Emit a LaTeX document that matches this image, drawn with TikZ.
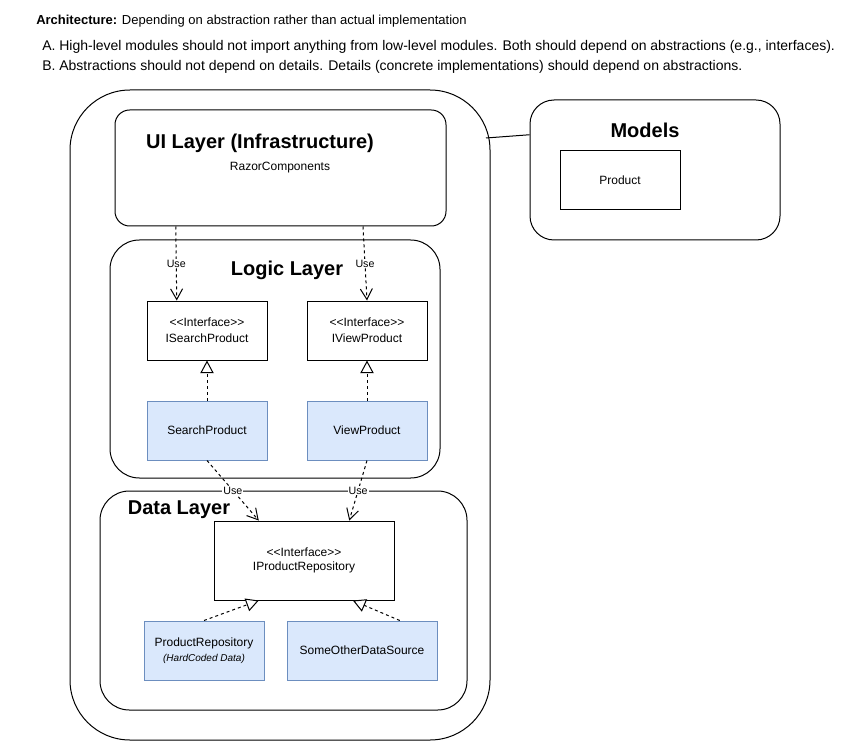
\documentclass[tikz,border=0pt]{standalone}
\usepackage{fontspec}
\setmainfont{Liberation Sans}
\usetikzlibrary{arrows.meta,calc,positioning}
\definecolor{ArchInk}{HTML}{000000}
\definecolor{ArchFill}{HTML}{DAE8FC}
\definecolor{ArchEdge}{HTML}{6C8EBF}
\newcommand{\stereo}{<\kern0pt<Interface>\kern0pt>}
\tikzset{
  every node/.style={font=\fontsize{9}{10.5}\selectfont, text=ArchInk},
  layer/.style={draw=ArchInk, line width=0.75pt, fill=white, inner sep=0pt},
  heading/.style={font=\bfseries\fontsize{15}{18}\selectfont},
  rule/.style={anchor=west, inner sep=0pt, font=\fontsize{10.5}{12}\selectfont},
  iface/.style={draw=ArchInk, line width=0.75pt, fill=white, align=center,
    minimum width=90pt, minimum height=44.25pt, inner sep=0pt},
  impl/.style={iface, fill=ArchFill, draw=ArchEdge},
  uses/.style={-{Straight Barb[length=8pt,width=9pt]}, draw=ArchInk, line width=0.75pt,
    dash pattern=on 2.25pt off 2.25pt},
  realizes/.style={-{Triangle[open,length=9.5pt,width=10pt,fill=white]}, draw=ArchInk,
    line width=0.75pt, dash pattern=on 2.25pt off 2.25pt},
  uselabel/.style={fill=white, inner sep=0.8pt, font=\fontsize{8}{9}\selectfont},
}

\begin{document}
\begin{tikzpicture}[x=0.75pt,y=-0.75pt]
  \useasboundingbox (0,0) rectangle (841,741);
  % Heading and rules
  \node[anchor=west, inner sep=0pt, font=\fontsize{9.75}{11}\selectfont] (intro) at (36,21)
    {\textbf{Architecture:} Depending on abstraction rather than actual implementation};
  \node[rule] (ruleA) at (42,47)
    {A. High-level modules should not import anything from low-level modules. Both should depend on abstractions (e.g., interfaces).};
  \node[rule] (ruleB) at (42,67)
    {B. Abstractions should not depend on details. Details (concrete implementations) should depend on abstractions.};
  % Layers
  \node[layer, rounded corners=45pt, minimum width=315pt, minimum height=487.5pt] (outer) at (280,415) {};
  \node[layer, rounded corners=11pt, minimum width=248.25pt, minimum height=87pt] (ui) at (280.5,168) {};
  \node[layer, rounded corners=22pt, minimum width=247.5pt, minimum height=178.5pt] (logic) at (275,359) {};
  \node[layer, rounded corners=22pt, minimum width=275.25pt, minimum height=164.25pt] (data) at (283.5,600.5) {};
  \node[layer, rounded corners=18pt, minimum width=187.5pt, minimum height=105pt] (models) at (655,170) {};
  \node[heading] (uititle) at (260,143) {UI Layer (Infrastructure)};
  \node (razor) at (280,168) {RazorComponents};
  \node[heading] (logictitle) at (287,270) {Logic Layer};
  \node[heading] (datatitle) at (179,510) {Data Layer};
  \node[heading] (modelstitle) at (645,130) {Models};
  % Classes
  \node[iface] (product) at (620,180.5) {Product};
  \node[iface] (isearch) at (207,330.5) {\stereo\\[1.5pt]ISearchProduct};
  \node[iface] (iview) at (367,330.5) {\stereo\\[1.5pt]IViewProduct};
  \node[impl] (search) at (207,430.5) {SearchProduct};
  \node[impl] (view) at (367,430.5) {ViewProduct};
  \node[iface, minimum width=135pt, minimum height=59.25pt] (irepo) at (304,560.5)
    {\stereo\\IProductRepository};
  \node[impl] (prodrepo) at (204,650.5)
    {ProductRepository\\[1pt]{\itshape\fontsize{7.5}{9}\selectfont(HardCoded Data)}};
  \node[impl, minimum width=112.5pt] (otherdata) at (362,650.5) {SomeOtherDataSource};
  % Link to the models
  \coordinate (modelsin) at ($(models.north west)!0.25!(models.south west)$);
  \coordinate (outerout) at (486,138);
  \draw[draw=ArchInk, line width=0.75pt] (outerout) -- (modelsin);
  % Dependencies
  \coordinate (isearchin) at ($(isearch.north west)!0.25!(isearch.north east)$);
  \draw[uses] ($(ui.south -| isearchin)+(-1,0)$) -- (isearchin)
    node[uselabel, pos=0.5] (use1) {Use};
  \draw[uses] ($(ui.south -| iview.north)+(-4,0)$) -- (iview.north)
    node[uselabel, pos=0.5] (use2) {Use};
  \coordinate (irepoleft) at ($(irepo.north west)!0.25!(irepo.north east)$);
  \coordinate (ireporight) at ($(irepo.north west)!0.75!(irepo.north east)$);
  \draw[uses] (search.south) -- (irepoleft) node[uselabel, pos=0.5] (use3) {Use};
  \draw[uses] (view.south) -- (ireporight) node[uselabel, pos=0.5] (use4) {Use};
  % Realizations
  \draw[realizes] (search.north) -- (isearch.south);
  \draw[realizes] (view.north) -- (iview.south);
  \coordinate (otherout) at ($(otherdata.north west)!0.75!(otherdata.north east)$);
  \draw[realizes] (prodrepo.north) -- ($(irepo.south west)!0.25!(irepo.south east)$);
  \draw[realizes] (otherout) -- ($(irepo.south west)!0.77!(irepo.south east)$);
\end{tikzpicture}
\end{document}
